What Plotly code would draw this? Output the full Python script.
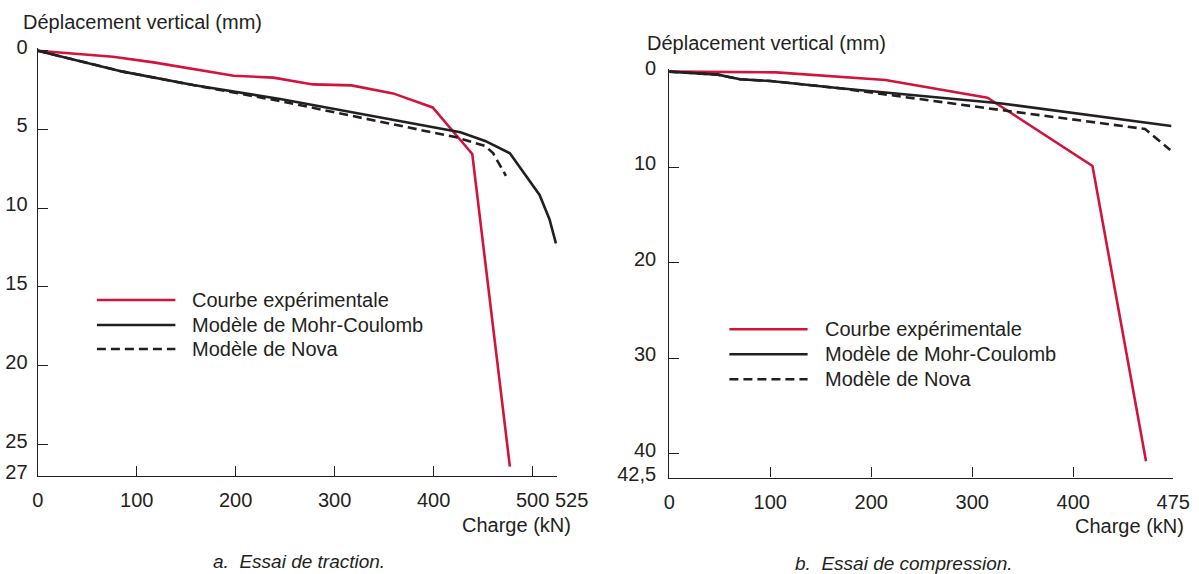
import plotly.graph_objects as go

# ---------------- data ----------------
# a. Essai de traction
trac_exp_x = [0, 76, 117, 159, 198, 238, 278, 317, 359, 399, 439, 477]
trac_exp_y = [0, 0.38, 0.74, 1.16, 1.59, 1.71, 2.14, 2.2, 2.71, 3.6, 6.56, 26.4]
trac_mc_x = [0, 86, 157, 245, 427, 452, 477, 507, 517, 523.5]
trac_mc_y = [0, 1.33, 2.18, 3.07, 5.18, 5.73, 6.51, 9.16, 10.7, 12.23]
trac_nova_x = [0, 86, 157, 245, 423, 452, 460, 473]
trac_nova_y = [0, 1.33, 2.18, 3.2, 5.5, 6.05, 6.5, 7.94]

# b. Essai de compression
comp_exp_x = [0, 106, 214, 315, 419, 472]
comp_exp_y = [0, 0.07, 0.87, 2.72, 9.87, 40.8]
comp_mc_x = [0, 48, 70, 100, 169, 268, 327, 497]
comp_mc_y = [0, 0.31, 0.8, 0.97, 1.74, 2.72, 3.3, 5.69]
comp_nova_x = [0, 48, 70, 100, 169, 228, 327, 471, 496]
comp_nova_y = [0, 0.31, 0.8, 0.97, 1.74, 2.6, 4.0, 6.0, 8.2]

trac_xticks = [0, 100, 200, 300, 400, 500, 525]
trac_xtext = ["0", "100", "200", "300", "400", "500", ""]
trac_last_label = "525"
trac_yticks = [0, 5, 10, 15, 20, 25, 27]
trac_ytext = ["0", "5", "10", "15", "20", "25", "27"]
comp_xticks = [0, 100, 200, 300, 400, 499]
comp_xtext = ["0", "100", "200", "300", "400", "475"]
comp_yticks = [0, 10, 20, 30, 40, 42.5]
comp_ytext = ["0", "10", "20", "30", "40", "42,5"]

series_names = ["Courbe expérimentale", "Modèle de Mohr-Coulomb", "Modèle de Nova"]

# ---------------- styles ----------------
W, H = 1199, 574
RED = "#D2143C"
BLK = "#231F20"
AX = "#231F20"
FONT = "Liberation Sans, Arial, Helvetica, sans-serif"
FS = 20
DASH = "9px,5px"


def px_x(p):
    return p / W


def px_y(p):
    return 1 - p / H


fig = go.Figure()

styles = [dict(color=RED, width=2.6), dict(color=BLK, width=2.6),
          dict(color=BLK, width=2.6, dash=DASH)]

for xs, ys, st, nm in zip([trac_exp_x, trac_mc_x, trac_nova_x],
                          [trac_exp_y, trac_mc_y, trac_nova_y], styles, series_names):
    fig.add_trace(go.Scatter(x=xs, y=ys, mode="lines", line=st, name=nm,
                             showlegend=False, xaxis="x", yaxis="y"))
for xs, ys, st, nm in zip([comp_exp_x, comp_mc_x, comp_nova_x],
                          [comp_exp_y, comp_mc_y, comp_nova_y], styles, series_names):
    fig.add_trace(go.Scatter(x=xs, y=ys, mode="lines", line=st, name=nm,
                             showlegend=False, xaxis="x2", yaxis="y2"))

axis_common = dict(showline=True, linecolor=AX, linewidth=1.3, showgrid=False,
                   zeroline=False, ticks="inside", ticklen=10, tickwidth=1.3,
                   tickcolor=AX, tickfont=dict(family=FONT, size=FS, color=AX),
                   tickmode="array", fixedrange=True, automargin=False)

fig.update_layout(
    template="none",
    width=W, height=H, autosize=False,
    margin=dict(l=0, r=0, t=0, b=0, pad=0),
    paper_bgcolor="white", plot_bgcolor="white",
    font=dict(family=FONT, size=FS, color=AX),
    showlegend=False,
    xaxis=dict(axis_common, domain=[px_x(37.7), px_x(557.4)], range=[0, 525],
               anchor="y", tickvals=trac_xticks, ticktext=trac_xtext, tickangle=0,
               ticklabelstandoff=6),
    yaxis=dict(axis_common, domain=[px_y(476), px_y(47.55)], range=[27, -0.2],
               anchor="x", tickvals=trac_yticks, ticktext=trac_ytext,
               ticklabelstandoff=5, ticklabelshift=4),
    xaxis2=dict(axis_common, domain=[px_x(669.3), px_x(1173.3)], range=[0, 499],
                anchor="y2", tickvals=comp_xticks, ticktext=comp_xtext, tickangle=0,
                ticklabelstandoff=6),
    yaxis2=dict(axis_common, domain=[px_y(477.5), px_y(68.8)], range=[42.5, -0.3],
                anchor="x2", tickvals=comp_yticks, ticktext=comp_ytext,
                ticklabelstandoff=8, ticklabelshift=4),
)

# ---------------- texts ----------------
ann = []


def text(x, y, s, xanchor="left", italic=False, size=FS):
    ann.append(dict(x=px_x(x), y=px_y(y), xref="paper", yref="paper",
                    text=("<i>%s</i>" % s) if italic else s, showarrow=False,
                    xanchor=xanchor, yanchor="middle",
                    font=dict(family=FONT, size=size, color=AX)))


text(21, 21.7, "Déplacement vertical (mm)")
text(645.2, 43.3, "Déplacement vertical (mm)")
text(573.3, 525, "Charge (kN)", xanchor="right")
text(1186, 526, "Charge (kN)", xanchor="right")
text(298.7, 561, "a.\u00a0\u00a0Essai de traction.", xanchor="center", italic=True, size=19)
text(904, 563, "b.\u00a0\u00a0Essai de compression.", xanchor="center", italic=True, size=19)
# last tick label of the traction axis, set slightly right of its tick as in the original
ann.append(dict(x=trac_xticks[-1], y=px_y(500), xref="x", yref="paper",
                text=trac_last_label, showarrow=False, xanchor="left", yanchor="middle",
                xshift=-4, font=dict(family=FONT, size=FS, color=AX)))

# ---------------- legends (drawn as line samples + labels) ----------------
shapes = []
legend_specs = [
    (96.9, 175.4, 190.3, [300, 325, 349]),
    (729.4, 807.6, 822.9, [329.3, 354.3, 379.3]),
]
leg_dash = ["solid", "solid", "dash"]
leg_col = [RED, BLK, BLK]
for x0, x1, xt, ys in legend_specs:
    for i, yy in enumerate(ys):
        shapes.append(dict(type="line", xref="paper", yref="paper",
                           x0=px_x(x0), x1=px_x(x1), y0=px_y(yy), y1=px_y(yy),
                           line=dict(color=leg_col[i], width=2.6,
                                     dash=DASH if leg_dash[i] == "dash" else "solid")))
        text(xt, yy, series_names[i])

fig.update_layout(annotations=ann, shapes=shapes)

fig.write_html("out.html")
